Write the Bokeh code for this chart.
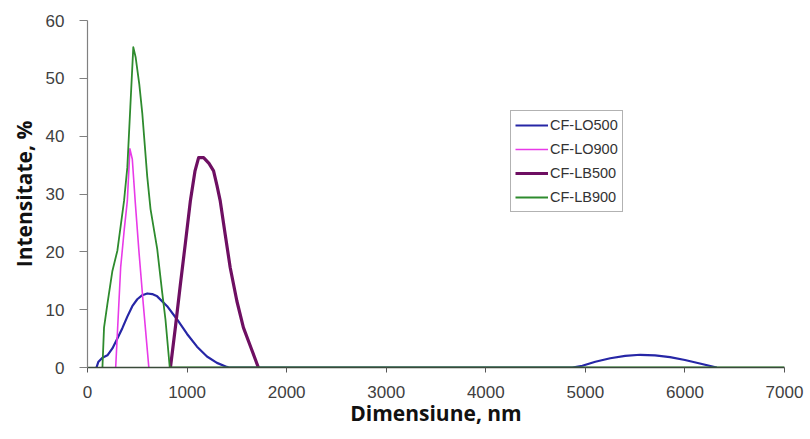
from bokeh.plotting import figure
from bokeh.models import Legend, LegendItem, Range1d, FixedTicker
from bokeh.embed import file_html
from bokeh.resources import INLINE

# Data
lo500_x = [90, 110, 150, 200, 250, 300, 350, 400, 450, 500, 550, 600, 650, 700, 800, 900, 1000, 1100, 1200, 1300, 1400, 1420,
           4870, 4970, 5100, 5250, 5400, 5550, 5700, 5850, 6000, 6150, 6320]
lo500_y = [0, 1.0, 1.7, 2.1, 3.3, 5.0, 6.8, 8.8, 10.6, 11.8, 12.5, 12.8, 12.7, 12.3, 10.6, 8.3, 5.8, 3.6, 1.9, 0.8, 0.1, 0,
           0, 0.3, 1.0, 1.6, 2.0, 2.2, 2.1, 1.8, 1.3, 0.7, 0]

lo900_x = [283, 333, 370, 400, 426, 450, 480, 516, 560, 616]
lo900_y = [0, 17.3, 24.0, 28.8, 37.8, 36.0, 28.5, 20.2, 11.0, 0]

lb500_x = [833, 883, 933, 983, 1033, 1080, 1116, 1166, 1220, 1266, 1300, 1333, 1383, 1433, 1500, 1566, 1640, 1716]
lb500_y = [0, 7.0, 14.4, 21.5, 28.8, 34.0, 36.3, 36.3, 35.3, 34.0, 31.5, 28.8, 23.0, 17.3, 11.5, 6.9, 3.5, 0]

lb900_x = [150, 166, 200, 250, 300, 367, 400, 430, 460, 483, 520, 550, 600, 633, 700, 750, 783, 826, 7000]
lb900_y = [0, 6.9, 11.0, 16.7, 20.2, 28.8, 34.6, 45.0, 55.4, 53.7, 49.0, 44.0, 33.0, 27.4, 20.5, 13.0, 8.3, 0, 0]

series_names = ["CF-LO500", "CF-LO900", "CF-LB500", "CF-LB900"]
series_colors = ["#2626a6", "#e83ae8", "#6e0f62", "#2e8b2e"]
series_widths = [2.2, 1.6, 3.2, 1.8]

x_ticks = [0, 1000, 2000, 3000, 4000, 5000, 6000, 7000]
y_ticks = [0, 10, 20, 30, 40, 50, 60]
x_title = "Dimensiune, nm"
y_title = "Intensitate, %"

p = figure(width=810, height=439, output_backend="svg", toolbar_location=None,
           x_range=Range1d(0, 7000), y_range=Range1d(0, 60),
           min_border_left=87, min_border_right=26, min_border_top=20, min_border_bottom=72)
p.outline_line_color = None
p.xgrid.visible = False
p.ygrid.visible = False
p.background_fill_color = "white"
p.border_fill_color = "white"

renderers = []
for xs, ys, c, w in zip([lo500_x, lo900_x, lb500_x, lb900_x], [lo500_y, lo900_y, lb500_y, lb900_y],
                        series_colors, series_widths):
    r = p.line(xs, ys, line_color=c, line_width=w, line_join="round")
    renderers.append(r)

# Axes
p.xaxis.ticker = FixedTicker(ticks=x_ticks)
p.yaxis.ticker = FixedTicker(ticks=y_ticks)
for ax in (p.xaxis[0], p.yaxis[0]):
    ax.minor_tick_line_color = None
    ax.major_tick_in = 0
    ax.major_label_text_font = "Liberation Sans"
    ax.major_label_text_font_size = "17px"
    ax.major_label_text_color = "#404040"
    ax.axis_label_text_font = "Open Sans"
    ax.axis_label_text_font_style = "bold"
    ax.axis_label_text_font_size = "21px"
    ax.axis_label_text_color = "#111111"

p.xaxis.axis_label = x_title
p.yaxis.axis_label = y_title
p.xaxis.major_tick_out = 5
p.xaxis.major_label_standoff = 13
p.xaxis.axis_label_standoff = -2
p.xaxis.axis_line_color = "#3a4a3a"
p.xaxis.major_tick_line_color = "#555555"
p.xaxis.axis_line_width = 1.5
p.yaxis.major_tick_out = 8
p.yaxis.major_label_standoff = 15
p.yaxis.axis_label_standoff = 5
p.yaxis.axis_line_color = "#808080"
p.yaxis.major_tick_line_color = "#808080"
p.yaxis.axis_line_width = 1.2

legend = Legend(items=[LegendItem(label=n, renderers=[r]) for n, r in zip(series_names, renderers)],
                location=(423, 155), orientation="vertical")
legend.label_text_font = "Liberation Sans"
legend.label_text_font_size = "14.5px"
legend.label_text_color = "#333333"
legend.glyph_width = 33
legend.glyph_height = 20
legend.label_height = 20
legend.label_standoff = 2
legend.spacing = 4
legend.padding = 4
legend.margin = 0
legend.border_line_color = "#666666"
legend.border_line_width = 1.5
legend.background_fill_alpha = 1.0
p.add_layout(legend, "center")

open("out.html", "w").write(file_html(p, INLINE))
